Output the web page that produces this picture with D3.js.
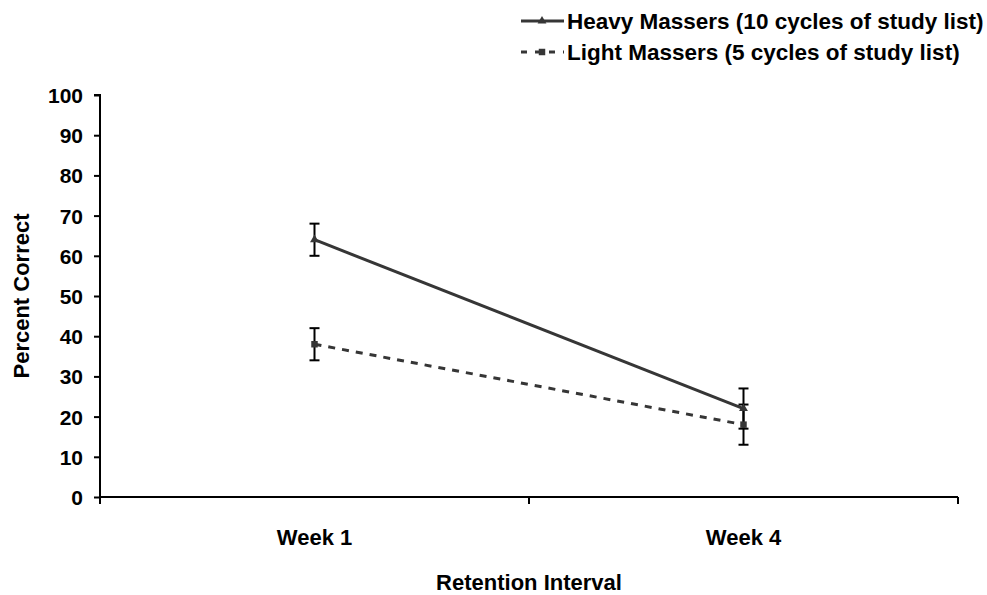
<!DOCTYPE html>
<html>
<head>
<meta charset="utf-8">
<script src="https://cdn.jsdelivr.net/npm/d3@7"></script>
<style>
  html, body { margin: 0; padding: 0; background: #fff; }
  svg { display: block; }
  text { font-family: "Liberation Sans", Arial, sans-serif; font-weight: bold; fill: #000; }
</style>
</head>
<body>
<svg id="chart" width="987" height="595"></svg>
<script>
const categories = ["Week 1", "Week 4"];
const seriesNames = ["Heavy Massers (10 cycles of study list)", "Light Massers (5 cycles of study list)"];
const heavyValues = [64, 22];
const heavyErrors = [4, 5];
const lightValues = [38, 18];
const lightErrors = [4, 5];
const yTicks = [0, 10, 20, 30, 40, 50, 60, 70, 80, 90, 100];

(function () {
const svg = d3.select("#chart");
const mLeft = 100, mRight = 958, mTop = 95, mBottom = 497;

const x = d3.scaleBand().domain(categories).range([mLeft, mRight]).padding(0);
const y = d3.scaleLinear().domain([0, 100]).range([mBottom, mTop]);

// Y axis
const yAxis = svg.append("g").attr("transform", `translate(${mLeft},0)`)
  .call(d3.axisLeft(y).tickValues(yTicks).tickSize(6).tickPadding(11).tickFormat(d3.format("d")));
yAxis.select(".domain").attr("stroke", "#000").attr("stroke-width", 2).attr("d", `M-6,${y(100)}H0V${y(0)}`);
yAxis.selectAll(".tick line").attr("stroke", "#000").attr("stroke-width", 2);
yAxis.selectAll(".tick text").style("font-size", "21px").attr("dy", "0.36em");

// X axis
const xAxis = svg.append("g").attr("transform", `translate(0,${mBottom})`)
  .call(d3.axisBottom(x).tickSize(0).tickPadding(40));
xAxis.select(".domain").attr("stroke", "#000").attr("stroke-width", 2).attr("d", `M${mLeft},0H${mRight}`);
xAxis.selectAll(".tick text").style("font-size", "22px").attr("dy", "0.36em");
const edges = [x(categories[0]), x(categories[1]), x(categories[1]) + x.bandwidth()];
xAxis.selectAll("line.edge").data(edges).enter().append("line")
  .attr("class", "edge").attr("x1", d => d).attr("x2", d => d).attr("y1", 0).attr("y2", 7)
  .attr("stroke", "#000").attr("stroke-width", 2);

// Axis titles
svg.append("text").attr("x", (mLeft + mRight) / 2).attr("y", 590).attr("text-anchor", "middle")
  .style("font-size", "22px").text("Retention Interval");
svg.append("text").attr("transform", `translate(29,${(mTop + mBottom) / 2}) rotate(-90)`)
  .attr("text-anchor", "middle").style("font-size", "22px").text("Percent Correct");

const cx = d => x(d) + x.bandwidth() / 2;
const lineGen = d3.line().x(d => cx(d.c)).y(d => y(d.v));

const heavy = categories.map((c, i) => ({ c, v: heavyValues[i], e: heavyErrors[i] }));
const light = categories.map((c, i) => ({ c, v: lightValues[i], e: lightErrors[i] }));

const lineColor = "#363636";

svg.append("path").datum(heavy).attr("d", lineGen).attr("fill", "none")
  .attr("stroke", lineColor).attr("stroke-width", 3);
svg.append("path").datum(light).attr("d", lineGen).attr("fill", "none")
  .attr("stroke", lineColor).attr("stroke-width", 3).attr("stroke-dasharray", "7,7");

// Error bars
function errorBars(data) {
  const g = svg.append("g");
  data.forEach(d => {
    const px = cx(d.c);
    g.append("line").attr("x1", px).attr("x2", px).attr("y1", y(d.v + d.e)).attr("y2", y(d.v - d.e))
      .attr("stroke", "#000").attr("stroke-width", 2);
    [d.v + d.e, d.v - d.e].forEach(v => {
      g.append("line").attr("x1", px - 5).attr("x2", px + 5).attr("y1", y(v)).attr("y2", y(v))
        .attr("stroke", "#000").attr("stroke-width", 2);
    });
  });
}
errorBars(heavy);
errorBars(light);

// Markers
const tri = d3.symbol().type(d3.symbolTriangle).size(34);
const sq = d3.symbol().type(d3.symbolSquare).size(42);
svg.selectAll("path.hm").data(heavy).enter().append("path").attr("class", "hm")
  .attr("d", tri).attr("transform", d => `translate(${cx(d.c)},${y(d.v)})`).attr("fill", lineColor);
svg.selectAll("path.lm").data(light).enter().append("path").attr("class", "lm")
  .attr("d", sq).attr("transform", d => `translate(${cx(d.c)},${y(d.v)})`).attr("fill", lineColor);

// Legend
const legendY = [21, 52];
const lg = svg.append("g");
lg.append("line").attr("x1", 521).attr("x2", 564).attr("y1", legendY[0]).attr("y2", legendY[0])
  .attr("stroke", lineColor).attr("stroke-width", 3);
lg.append("path").attr("d", tri).attr("transform", `translate(542,${legendY[0]})`).attr("fill", lineColor);
lg.append("line").attr("x1", 521).attr("x2", 564).attr("y1", legendY[1]).attr("y2", legendY[1])
  .attr("stroke", lineColor).attr("stroke-width", 3).attr("stroke-dasharray", "6,8");
lg.append("path").attr("d", sq).attr("transform", `translate(542,${legendY[1]})`).attr("fill", lineColor);
seriesNames.forEach((n, i) => {
  lg.append("text").attr("x", 567).attr("y", legendY[i]).attr("dy", "0.36em")
    .style("font-size", "22.5px").text(n);
});
})();
</script>
</body>
</html>
